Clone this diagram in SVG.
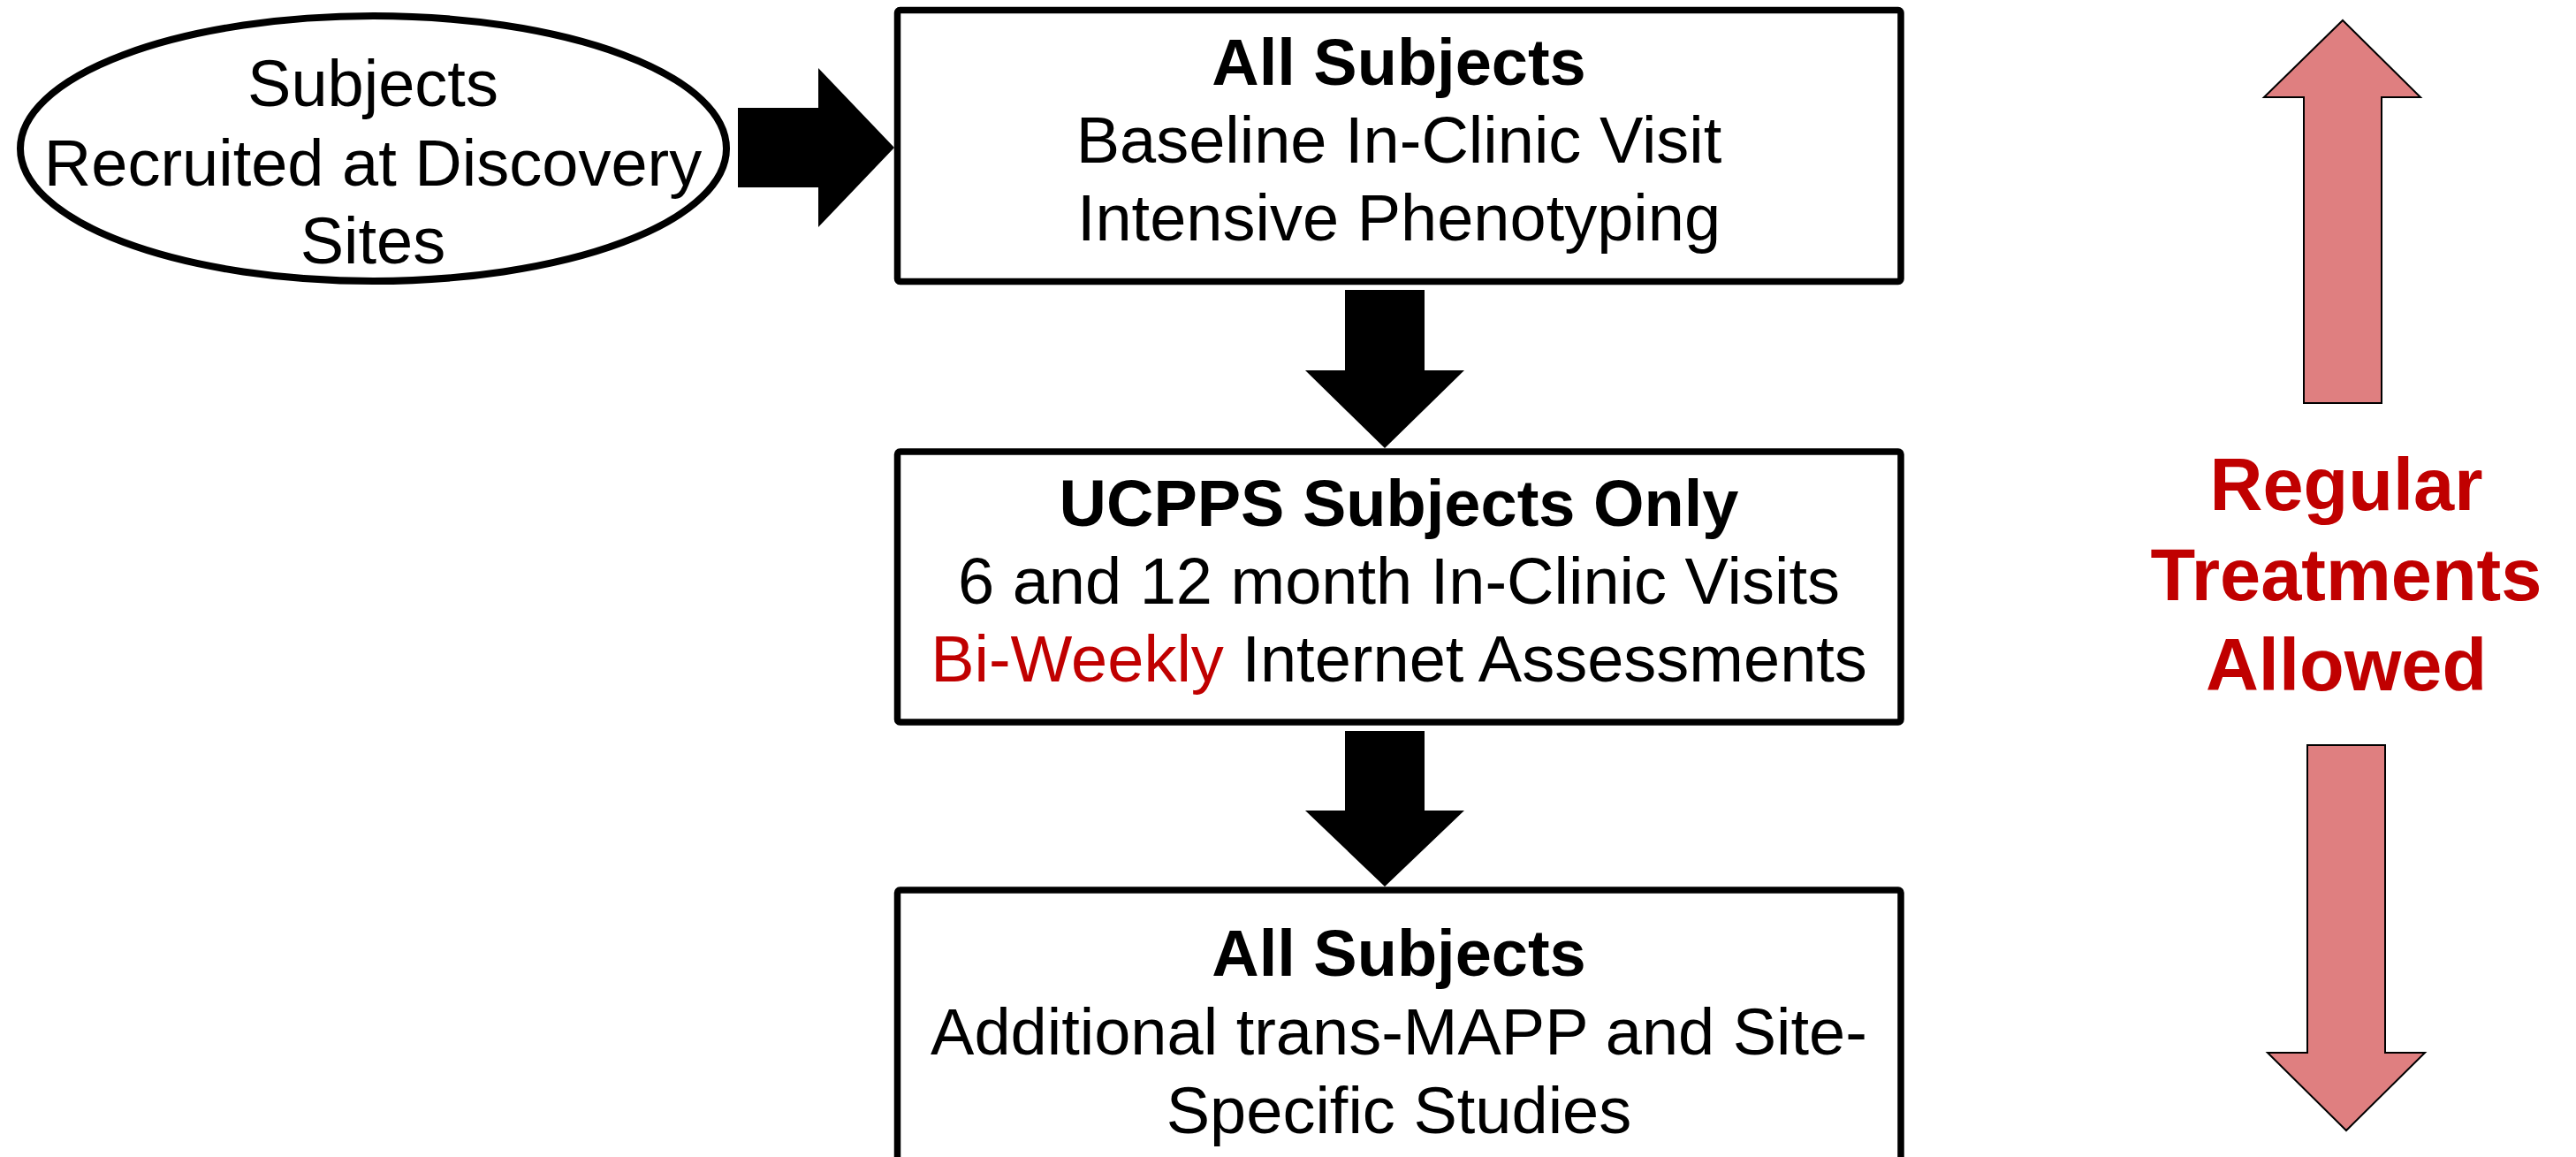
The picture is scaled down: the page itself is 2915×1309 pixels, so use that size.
<svg xmlns="http://www.w3.org/2000/svg" width="2915" height="1309" viewBox="0 0 2915 1309">
  <style>
    .box { fill: #ffffff; stroke: #000000; stroke-width: 7.5; }
    .oval { fill: #ffffff; stroke: #000000; stroke-width: 8; }
    .flow { fill: #000000; stroke: none; }
    .span { fill: #df7f80; stroke: #000000; stroke-width: 2; stroke-linejoin: miter; }
    .t { font-family: "Liberation Sans", Arial, sans-serif; font-size: 74px; fill: #000000; text-anchor: middle; }
    .b { font-weight: bold; }
    .red { fill: #c00000; }
    .side { font-family: "Liberation Sans", Arial, sans-serif; font-size: 83px; font-weight: bold; fill: #c00000; text-anchor: middle; }
  </style>

  <rect x="0" y="0" width="2915" height="1309" fill="#ffffff"/>

  <!-- connectors: block arrows between stages -->
  <g id="connectors">
    <polygon class="flow" points="835,122 926,122 926,77 1012,167 926,257 926,212 835,212"/>
    <polygon class="flow" points="1522,328 1612,328 1612,419 1657,419 1567,507 1477,419 1522,419"/>
    <polygon class="flow" points="1522,827 1612,827 1612,917 1657,917 1567,1003 1477,917 1522,917"/>
  </g>

  <!-- recruitment source -->
  <g id="recruited">
    <ellipse class="oval" cx="422.5" cy="168" rx="399.5" ry="150"/>
    <text class="t" x="422" y="120">Subjects</text>
    <text class="t" x="422" y="210">Recruited at Discovery</text>
    <text class="t" x="422" y="298">Sites</text>
  </g>

  <!-- stage 1 -->
  <g id="baseline">
    <rect class="box" x="1015.5" y="11.5" width="1135.5" height="307" rx="3"/>
    <text class="t b" x="1583" y="96">All Subjects</text>
    <text class="t" x="1583" y="184">Baseline In-Clinic Visit</text>
    <text class="t" x="1583" y="272">Intensive Phenotyping</text>
  </g>

  <!-- stage 2 -->
  <g id="followup">
    <rect class="box" x="1015.5" y="511" width="1135.5" height="306" rx="3"/>
    <text class="t b" x="1583" y="595">UCPPS Subjects Only</text>
    <text class="t" x="1583" y="683">6 and 12 month In-Clinic Visits</text>
    <text class="t" x="1583" y="771"><tspan class="red">Bi-Weekly</tspan> Internet Assessments</text>
  </g>

  <!-- stage 3 -->
  <g id="additional">
    <rect class="box" x="1015.5" y="1007" width="1135.5" height="310" rx="3"/>
    <text class="t b" x="1583" y="1104">All Subjects</text>
    <text class="t" x="1583" y="1193">Additional trans-MAPP and Site-</text>
    <text class="t" x="1583" y="1282">Specific Studies</text>
  </g>

  <!-- treatment span indicator -->
  <g id="treatments">
    <polygon class="span" points="2651,23 2739,110 2695,110 2695,456 2607,456 2607,110 2562,110"/>
    <polygon class="span" points="2611,843 2699,843 2699,1191 2744,1191 2655,1279 2566,1191 2611,1191"/>
    <text class="side" x="2655" y="577">Regular</text>
    <text class="side" x="2655" y="679">Treatments</text>
    <text class="side" x="2655" y="781">Allowed</text>
  </g>
</svg>
